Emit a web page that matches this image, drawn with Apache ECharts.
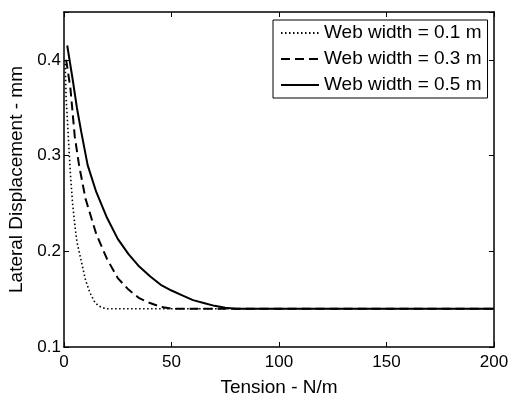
<!DOCTYPE html>
<html>
<head>
<meta charset="utf-8">
<script src="https://cdn.jsdelivr.net/npm/echarts@6/dist/echarts.min.js"></script>
<style>
  html, body { margin: 0; padding: 0; background: #fff; }
  #chart { width: 514px; height: 394px; }
</style>
</head>
<body>
<div id="chart"></div>
<script>
// data
const seriesNames = ["Web width = 0.1 m", "Web width = 0.3 m", "Web width = 0.5 m"];

const tension01 = [0.5, 1, 2, 3, 4, 5, 6, 8, 10, 12, 14, 16, 18, 20, 50, 100, 150, 200];
const disp01 = [0.40, 0.36, 0.32, 0.28, 0.25, 0.228, 0.21, 0.19, 0.17, 0.157, 0.148, 0.143, 0.141, 0.14, 0.14, 0.14, 0.14, 0.14];

const tension03 = [1, 3, 5, 7, 10, 15, 20, 25, 30, 35, 40, 45, 50, 100, 150, 200];
const disp03 = [0.40, 0.37, 0.32, 0.29, 0.255, 0.218, 0.192, 0.172, 0.16, 0.151, 0.146, 0.142, 0.14, 0.14, 0.14, 0.14];

const tension05 = [1.5, 4, 6, 8, 11, 15, 20, 25, 30, 35, 40, 45, 50, 55, 60, 65, 70, 75, 80, 100, 150, 200];
const disp05 = [0.415, 0.38, 0.35, 0.325, 0.29, 0.262, 0.235, 0.213, 0.197, 0.184, 0.174, 0.165, 0.159, 0.154, 0.149, 0.146, 0.143, 0.141, 0.14, 0.14, 0.14, 0.14];

const xTicks = [0, 50, 100, 150, 200];
const yTicks = [0.1, 0.2, 0.3, 0.4];

const FONT = "'Liberation Sans', Arial, sans-serif";

function zip(xs, ys) {
  return xs.map((x, i) => [x, ys[i]]);
}

const chart = echarts.init(document.getElementById("chart"));

// shared axis look (box with inward ticks, like MATLAB)
const axisLine = { show: true, onZero: false, lineStyle: { color: "#000", width: 1.5 } };
const axisTick = { show: true, inside: true, length: 5, lineStyle: { color: "#000", width: 1 } };

const xBase = {
  type: "value",
  min: xTicks[0],
  max: xTicks[xTicks.length - 1],
  interval: 50,
  axisLine: axisLine,
  axisTick: axisTick,
  splitLine: { show: false },
};
const yBase = {
  type: "value",
  min: yTicks[0],
  max: 0.45,
  interval: 0.1,
  axisLine: axisLine,
  axisTick: axisTick,
  splitLine: { show: false },
};

function yFmt(v) {
  const k = Math.round(v * 10);
  return Math.abs(v * 10 - k) < 1e-6 ? (k / 10).toFixed(1) : "";
}

chart.setOption({
  animation: false,
  backgroundColor: "#fff",
  textStyle: { fontFamily: FONT, color: "#000" },
  grid: { left: 64, right: 20, top: 12, bottom: 47, outerBoundsMode: "none", containLabel: false },
  legend: {
    orient: "vertical",
    left: 273,
    top: 20,
    padding: [3, 6, 3, 7],
    itemWidth: 38,
    itemHeight: 14,
    itemGap: 6,
    itemStyle: { opacity: 0 },
    backgroundColor: "#fff",
    borderColor: "#000",
    borderWidth: 1,
    borderRadius: 0,
    textStyle: { fontFamily: FONT, fontSize: 19, color: "#000", lineHeight: 20 },
    data: seriesNames,
  },
  xAxis: [
    Object.assign({}, xBase, {
      position: "bottom",
      name: "Tension - N/m",
      nameLocation: "middle",
      nameGap: 31,
      nameTextStyle: { fontFamily: FONT, fontSize: 19, color: "#000" },
      axisLabel: { fontFamily: FONT, fontSize: 17, color: "#000", margin: 7 },
    }),
    Object.assign({}, xBase, { position: "top", axisLabel: { show: false } }),
  ],
  yAxis: [
    Object.assign({}, yBase, {
      position: "left",
      name: "Lateral Displacement - mm",
      nameLocation: "middle",
      nameGap: 28,
      nameTextStyle: { fontFamily: FONT, fontSize: 19, color: "#000" },
      axisLabel: { fontFamily: FONT, fontSize: 17, color: "#000", margin: 3, formatter: yFmt },
    }),
    Object.assign({}, yBase, { position: "right", axisLabel: { show: false } }),
  ],
  series: [
    {
      name: seriesNames[0],
      type: "line",
      symbol: "none",
      data: zip(tension01, disp01),
      lineStyle: { color: "#000", width: 1.6, type: [1.5, 2.5] },
      itemStyle: { color: "#000" },
    },
    {
      name: seriesNames[1],
      type: "line",
      symbol: "none",
      data: zip(tension03, disp03),
      lineStyle: { color: "#000", width: 2, type: [9, 5] },
      itemStyle: { color: "#000" },
    },
    {
      name: seriesNames[2],
      type: "line",
      symbol: "none",
      data: zip(tension05, disp05),
      lineStyle: { color: "#000", width: 2, type: "solid" },
      itemStyle: { color: "#000" },
    },
  ],
});
</script>
</body>
</html>
